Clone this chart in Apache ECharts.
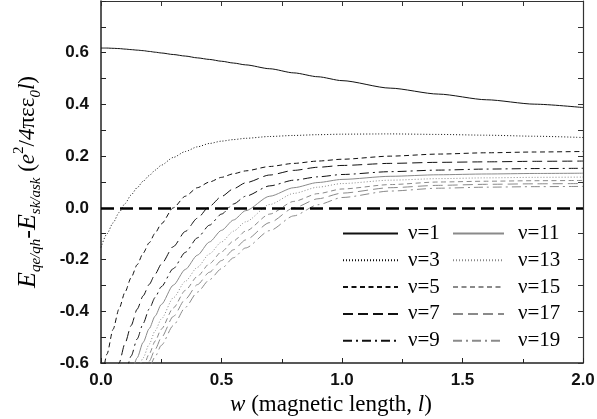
<!DOCTYPE html>
<html><head><meta charset="utf-8">
<script src="https://cdn.jsdelivr.net/npm/echarts@6/dist/echarts.min.js"></script>
<style>html,body{margin:0;padding:0;background:#fff}#c{width:597px;height:419px}</style>
</head><body><div id="c"></div>
<script>
// ---- data ----
const xs = [0, 0.025, 0.05, 0.075, 0.1, 0.125, 0.15, 0.175, 0.2, 0.225, 0.25, 0.3, 0.35, 0.4, 0.45, 0.5, 0.55, 0.6, 0.7, 0.8, 0.9, 1.0, 1.2, 1.4, 1.6, 1.8, 2.0];
const nu1  = [0.618, 0.618, 0.617, 0.616, 0.614, 0.612, 0.61, 0.608, 0.605, 0.602, 0.599, 0.593, 0.587, 0.58, 0.574, 0.567, 0.56, 0.553, 0.538, 0.522, 0.507, 0.492, 0.463, 0.44, 0.418, 0.401, 0.388];
const nu3  = [-0.153, -0.1, -0.058, -0.018, 0.017, 0.05, 0.078, 0.103, 0.125, 0.146, 0.165, 0.195, 0.218, 0.236, 0.249, 0.258, 0.264, 0.269, 0.276, 0.28, 0.283, 0.285, 0.286, 0.284, 0.281, 0.277, 0.272];
const nu5  = [-0.70, -0.565, -0.47, -0.39, -0.325, -0.27, -0.22, -0.175, -0.135, -0.097, -0.062, 0.0, 0.045, 0.078, 0.1, 0.118, 0.132, 0.143, 0.16, 0.172, 0.181, 0.188, 0.2, 0.208, 0.213, 0.216, 0.218];
const nu7  = [null, null, -0.68, -0.6, -0.523, -0.455, -0.392, -0.34, -0.296, -0.256, -0.218, -0.15, -0.091, -0.04, 0.006, 0.044, 0.074, 0.097, 0.127, 0.145, 0.157, 0.164, 0.172, 0.176, 0.178, 0.18, 0.181];
const nu9  = [null, null, null, -0.72, -0.645, -0.573, -0.507, -0.447, -0.391, -0.346, -0.305, -0.235, -0.172, -0.116, -0.067, -0.024, 0.015, 0.045, 0.085, 0.107, 0.12, 0.129, 0.14, 0.146, 0.15, 0.152, 0.153];
const nu11 = [null, null, null, null, -0.72, -0.64, -0.58, -0.52, -0.467, -0.418, -0.374, -0.299, -0.238, -0.183, -0.132, -0.087, -0.047, -0.011, 0.045, 0.078, 0.098, 0.11, 0.122, 0.128, 0.131, 0.133, 0.134];
const nu13 = [null, null, null, null, null, -0.71, -0.635, -0.58, -0.527, -0.475, -0.43, -0.348, -0.284, -0.23, -0.178, -0.132, -0.09, -0.054, 0.013, 0.056, 0.08, 0.094, 0.107, 0.113, 0.116, 0.118, 0.119];
const nu15 = [null, null, null, null, null, null, -0.68, -0.615, -0.565, -0.515, -0.469, -0.387, -0.319, -0.265, -0.216, -0.17, -0.128, -0.09, -0.024, 0.025, 0.055, 0.073, 0.09, 0.1, 0.103, 0.105, 0.106];
const nu17 = [null, null, null, null, null, null, -0.70, -0.64, -0.593, -0.547, -0.502, -0.42, -0.353, -0.297, -0.249, -0.204, -0.162, -0.124, -0.057, 0.0, 0.035, 0.057, 0.078, 0.087, 0.091, 0.093, 0.094];
const nu19 = [null, null, null, null, null, null, null, -0.68, -0.617, -0.575, -0.532, -0.455, -0.385, -0.326, -0.278, -0.235, -0.193, -0.155, -0.088, -0.031, 0.012, 0.04, 0.065, 0.076, 0.08, 0.082, 0.083];
const names = ['ν=1', 'ν=3', 'ν=5', 'ν=7', 'ν=9', 'ν=11', 'ν=13', 'ν=15', 'ν=17', 'ν=19'];
const yTicks = [-0.6, -0.4, -0.2, 0.0, 0.2, 0.4, 0.6];
const xTicks = [0.0, 0.5, 1.0, 1.5, 2.0];

// ---- styles ----
const allVals = [nu1, nu3, nu5, nu7, nu9, nu11, nu13, nu15, nu17, nu19];
const BLACK = '#111', GRAY = '#8a8a8a';
const dashes = ['solid', [1, 2], [5, 3.5], [10, 5], [9, 4, 2, 4]];
const serif = 'Liberation Serif, Times New Roman, serif';
const sans = 'Liberation Sans, Arial, sans-serif';

const series = allVals.map((vals, k) => {
  const s = {
    name: names[k], type: 'line', xAxisIndex: 0, yAxisIndex: 0,
    data: xs.map((x, i) => [x, vals[i]]),
    symbol: 'none', smooth: 0.25, smoothMonotone: 'x', clip: true,
    lineStyle: { color: k < 5 ? BLACK : GRAY, width: 1, type: dashes[k % 5] },
    itemStyle: { color: k < 5 ? BLACK : GRAY },
    silent: true, animation: false, z: 3
  };
  if (k === 0) {
    s.markLine = {
      silent: true, symbol: ['none', 'none'], label: { show: false },
      lineStyle: { color: '#000', width: 2.5, type: [13, 6] },
      data: [{ yAxis: 0 }], animation: false
    };
  }
  return s;
});

const axisLineStyle = { color: '#222', width: 1.5 };
const legendBase = {
  orient: 'vertical', top: 223, itemWidth: 55, itemHeight: 14, itemGap: 5.8,
  padding: 0,
  itemStyle: { opacity: 0 },
  textStyle: { fontFamily: serif, fontSize: 21, color: '#000', lineHeight: 20, padding: [0, 0, 0, 5] },
  selectedMode: false
};

const option = {
  animation: false,
  backgroundColor: '#fff',
  grid: { left: 101, right: 14, top: 1, bottom: 56, containLabel: false, outerBoundsMode: 'none' },
  legend: [
    Object.assign({}, legendBase, { left: 342, data: names.slice(0, 5) }),
    Object.assign({}, legendBase, { left: 452, itemWidth: 51, data: names.slice(5),
      textStyle: Object.assign({}, legendBase.textStyle, { padding: [0, 0, 0, 9] }) })
  ],
  xAxis: [{
    type: 'value', min: xTicks[0], max: xTicks[xTicks.length - 1], interval: 0.5, position: 'bottom',
    axisLine: { show: true, onZero: false, lineStyle: axisLineStyle },
    axisTick: { show: true, inside: true, length: 5, lineStyle: { color: '#222' } },
    minorTick: { show: true, splitNumber: 2, length: 4, lineStyle: { color: '#222' } },
    splitLine: { show: false }, minorSplitLine: { show: false },
    axisLabel: { formatter: v => v.toFixed(1), fontFamily: sans, fontWeight: 'bold', fontSize: 17, color: '#111', margin: 9 },
    name: '{i|w} (magnetic length, {i|l})', nameLocation: 'middle', nameGap: 24,
    nameTextStyle: { fontFamily: serif, fontSize: 23, color: '#000', padding: [0, 22, 0, 0],
      rich: { i: { fontFamily: serif, fontSize: 23, fontStyle: 'italic', color: '#000' } } }
  }, {
    type: 'value', min: 0, max: 2, interval: 0.25, position: 'top',
    axisLine: { show: true, onZero: false, lineStyle: { color: '#333', width: 1.2 } },
    axisTick: { show: true, inside: true, length: 5, lineStyle: { color: '#333' } },
    axisLabel: { show: false }, splitLine: { show: false }
  }],
  yAxis: [{
    type: 'value', min: yTicks[0], max: 0.8, interval: 0.2, position: 'left',
    axisLine: { show: true, onZero: false, lineStyle: axisLineStyle },
    axisTick: { show: true, inside: true, length: 5, lineStyle: { color: '#222' } },
    minorTick: { show: true, splitNumber: 2, length: 5, lineStyle: { color: '#222' } },
    splitLine: { show: false }, minorSplitLine: { show: false },
    axisLabel: { formatter: v => v.toFixed(1), showMaxLabel: false, fontFamily: sans, fontWeight: 'bold', fontSize: 17, color: '#111', margin: 12 },
    name: '{E|E}{sub|qe/qh}{E|-E}{sub|sk/ask}{n| (}{ni|e}{sup|2}{n|/}{ni|4}{n|πεε}{sub|0}{ni|l}{n|)}',
    nameLocation: 'middle', nameRotate: 90, nameGap: 57,
    nameTextStyle: { fontFamily: serif, fontSize: 23, color: '#000',
      rich: {
        E: { fontFamily: serif, fontSize: 26, fontStyle: 'italic', color: '#000', lineHeight: 32 },
        sub: { fontFamily: serif, fontSize: 15, fontStyle: 'italic', color: '#000', verticalAlign: 'bottom', lineHeight: 15 },
        sup: { fontFamily: serif, fontSize: 15, color: '#000', verticalAlign: 'top', lineHeight: 15 },
        n: { fontFamily: serif, fontSize: 23, color: '#000' },
        ni: { fontFamily: serif, fontSize: 23, fontStyle: 'italic', color: '#000' }
      } }
  }, {
    type: 'value', min: -0.6, max: 0.8, interval: 0.1, position: 'right',
    axisLine: { show: true, onZero: false, lineStyle: { color: '#333', width: 1.2 } },
    axisTick: { show: true, inside: true, length: 5, lineStyle: { color: '#333' } },
    axisLabel: { show: false }, splitLine: { show: false }
  }],
  series: series
};

const chart = echarts.init(document.getElementById('c'), null, { renderer: 'canvas' });
chart.setOption(option);
</script>
</body></html>
